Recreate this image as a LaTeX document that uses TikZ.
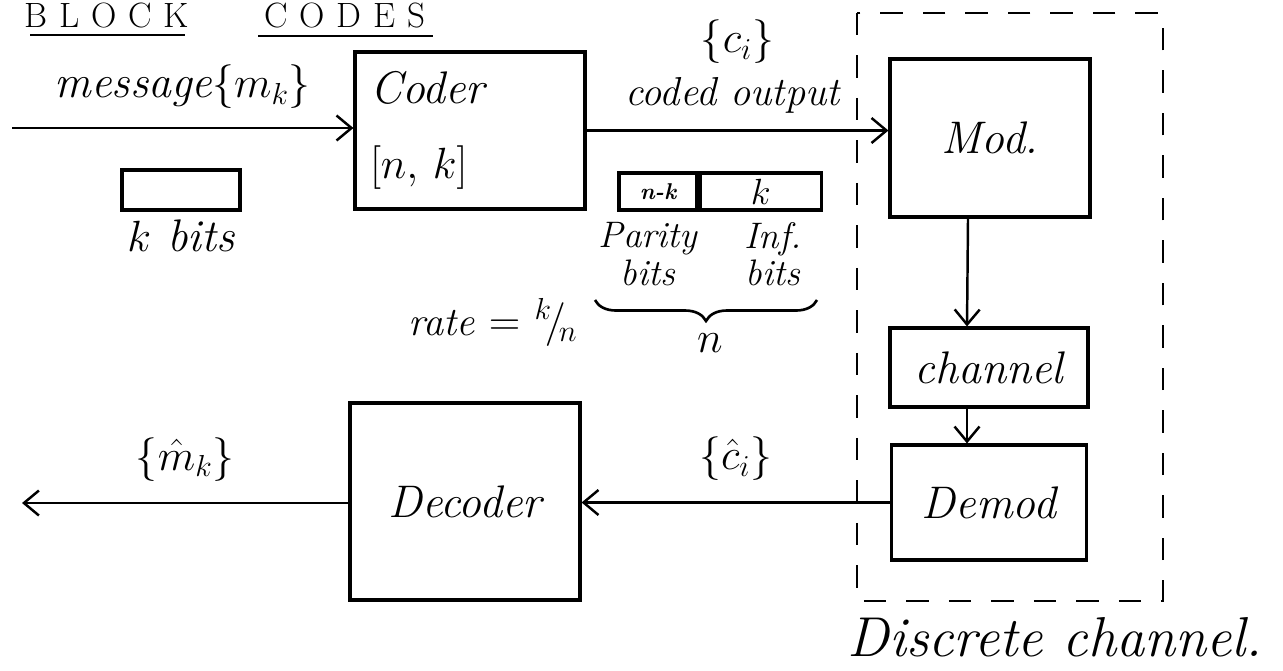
\documentclass[tikz,border=0pt]{standalone}
\usetikzlibrary{positioning,arrows.meta,decorations.pathreplacing}

\tikzset{
  box/.style={draw,line width=1.8pt,inner sep=0pt},
  hand/.style={font=\fontsize{26}{30}\selectfont\itshape},
  handmd/.style={font=\fontsize{23}{26}\selectfont\itshape},
  handsm/.style={font=\fontsize{21}{24}\selectfont\itshape},
  handxs/.style={font=\fontsize{13}{15}\selectfont\bfseries\itshape},
  conn/.style={line width=1.4pt,-{Straight Barb[length=3mm,width=5mm,line width=1.4pt]}},
  chanframe/.style={line width=1.6pt,dash pattern=on 0.45cm off 0.4cm},
  titleline/.style={line width=1.6pt}
}

\begin{document}
\begin{tikzpicture}[x=0.02cm,y=-0.02cm]
  \useasboundingbox (0,0) rectangle (1283,670);

  % title
  \node[font=\fontsize{20}{22}\selectfont,anchor=base,inner sep=0pt] (blk) at (107,27) {B\,\,L\,\,O\,\,C\,\,K};
  \node[font=\fontsize{20}{22}\selectfont,anchor=base,inner sep=0pt] (cds) at (345,27) {C\,\,O\,\,D\,\,E\,\,S};
  \draw[titleline] (30,35) -- (185,35);
  \draw[titleline] (258,36) -- (433,36);

  % encoder side
  \node[box,hand,minimum width=4.6cm,minimum height=3.14cm,text width=4.0cm,align=left]
    (coder) at (470,130.5) {Coder\\[0.45cm]$[n,\,k]$};
  \coordinate (msgin) at (12,128);
  \draw[conn] (msgin) -- (msgin -| coder.west)
    node[midway,above=0.25cm,hand] (msglbl) {message$\{m_k\}$};

  \node[box,minimum width=2.36cm,minimum height=0.8cm] (kbox) at (181,190) {};
  \node[hand,below=0.05cm of kbox] (kbits) {$k$ bits};

  % codeword
  \node[box,handxs,minimum width=1.56cm,minimum height=0.74cm] (parity) at (658,191.5) {n-k};
  \node[box,handsm,minimum width=2.42cm,minimum height=0.74cm,right=0pt of parity] (info) {$k$};
  \node[handsm,align=center,below=0.1cm of parity,xshift=-0.2cm] (parlbl) {Parity\\[-0.1cm]bits};
  \node[handsm,align=center,below=0.1cm of info,xshift=0.25cm] (inflbl) {Inf.\\[-0.1cm]bits};
  \draw[line width=1.5pt,decorate,decoration={brace,mirror,amplitude=0.42cm}]
    (595,300) -- (817,300);
  \node[hand] (nlbl) at (710,343) {$n$};
  \node[handmd] (rate) at (493,322) {rate $=$ ${}^{k}\!/\!{}_{n}$};

  % discrete channel
  \node[box,hand,minimum width=4.0cm,minimum height=3.16cm] (mod) at (990,138) {Mod.};
  \node[box,hand,minimum width=3.96cm,minimum height=1.58cm] (channel) at (989,367.5) {channel};
  \node[box,hand,minimum width=3.9cm,minimum height=2.3cm] (demod) at (989,502.5) {Demod};
  \draw[chanframe] (857,13) rectangle (1163,601);
  \node[font=\fontsize{32}{36}\selectfont\itshape] (dclbl) at (1055,637) {Discrete channel.};

  \draw[conn] (coder.east) -- (coder.east -| mod.west)
    node[midway,above=0.2cm,handmd,xshift=-0.1cm] (colbl) {coded output}
    node[midway,above=1.2cm,hand] (cilbl) {$\{c_i\}$};
  \draw[conn] ([xshift=-0.44cm]mod.south) -- ([xshift=-0.44cm]channel.north);
  \draw[conn] ([xshift=-0.44cm]channel.south) -- ([xshift=-0.44cm]demod.north);

  % decoder side
  \node[box,hand,minimum width=4.6cm,minimum height=3.94cm] (decoder) at (465,501.5) {Decoder};
  \draw[conn] (demod.west) -- (demod.west -| decoder.east)
    node[midway,above=0.3cm,hand] (chlbl) {$\{\hat{c}_i\}$};
  \coordinate (msgout) at (22,503);
  \draw[conn] (decoder.west |- msgout) -- (msgout)
    node[midway,above=0.3cm,hand] (mhlbl) {$\{\hat{m}_k\}$};
\end{tikzpicture}
\end{document}
